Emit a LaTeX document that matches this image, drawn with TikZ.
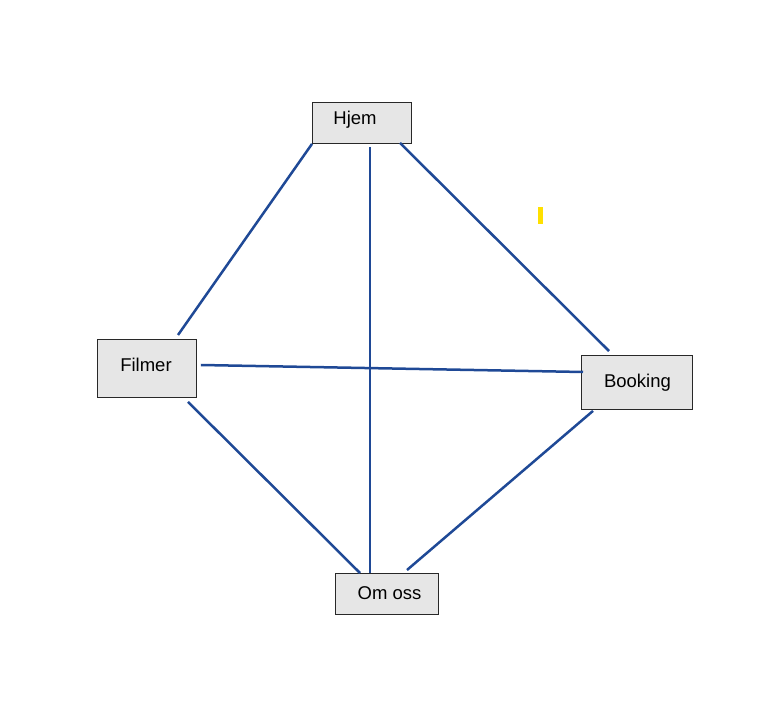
\documentclass[tikz,border=0pt]{standalone}
\usepackage{fontspec}
\setmainfont{Liberation Sans}
\usetikzlibrary{calc}
\definecolor{linkblue}{RGB}{31,73,150}
\definecolor{boxgray}{RGB}{230,230,230}
\definecolor{boxline}{RGB}{40,40,40}
\definecolor{markyellow}{RGB}{255,224,0}
\tikzset{
  pagebox/.style={draw=boxline, fill=boxgray, line width=0.9pt, inner sep=0pt, anchor=north west},
  pagelabel/.style={anchor=base, inner sep=0pt, font=\fontsize{18.5}{20}\selectfont, text=black},
  link/.style={draw=linkblue, line width=2.5pt}
}
\begin{document}
\begin{tikzpicture}[x=1pt,y=-1pt]
\useasboundingbox (0,0) rectangle (766,708);
% boxes
\node[pagebox, minimum width=99pt, minimum height=41pt] (hjem) at (312,102) {};
\node[pagebox, minimum width=99pt, minimum height=58pt] (filmer) at (97,339) {};
\node[pagebox, minimum width=111pt, minimum height=54pt] (booking) at (581,355) {};
\node[pagebox, minimum width=103pt, minimum height=41pt] (omoss) at (335,573) {};
% labels
\node[pagelabel] (hjemt) at (355,125) {Hjem};
\node[pagelabel] (filmert) at (146,372) {Filmer};
\node[pagelabel] (bookingt) at (637.5,388) {Booking};
\node[pagelabel] (omosst) at (389.5,599) {Om oss};
% connectors
\draw[link] (hjem.south west) -- ($(filmer.north west)+(81,-4)$);
\draw[link] ($(hjem.south west)+(58,3)$) -- ($(omoss.north west)+(35,0)$);
\draw[link] ($(hjem.south west)+(88,-1)$) -- ($(booking.north west)+(28,-4)$);
\draw[link] ($(filmer.north east)+(4,26)$) -- ($(booking.north west)+(2,17)$);
\draw[link] ($(filmer.south west)+(91,4)$) -- ($(omoss.north west)+(25,0)$);
\draw[link] ($(booking.south west)+(12,1)$) -- ($(omoss.north west)+(72,-3)$);
% yellow mark
\fill[markyellow] (538,207) rectangle (543,224);
\end{tikzpicture}
\end{document}
